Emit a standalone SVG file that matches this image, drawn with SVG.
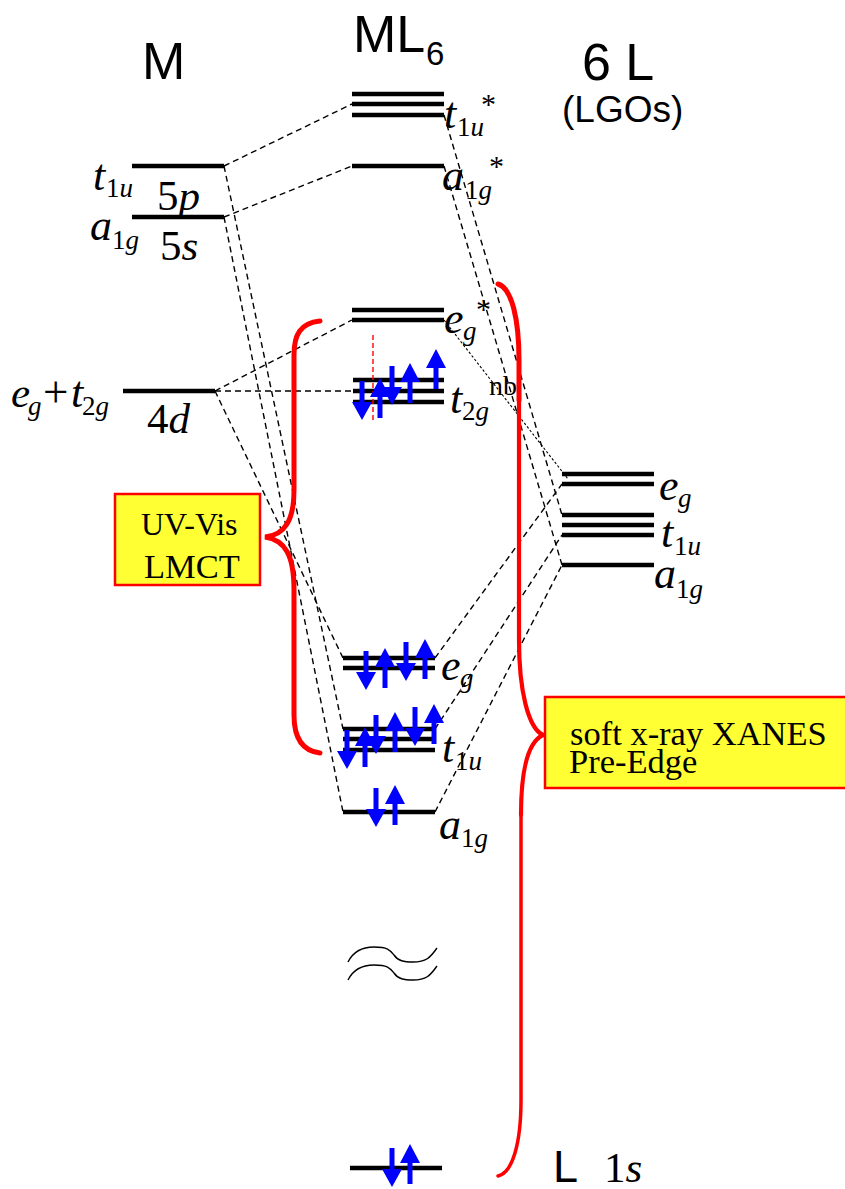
<svg xmlns="http://www.w3.org/2000/svg" width="845" height="1189" viewBox="0 0 845 1189">
<style>
.lv{stroke:#000;stroke-width:4.5;fill:none}
.d{stroke:#000;stroke-width:1.4;stroke-dasharray:6 4;fill:none}
.f{stroke:#000;stroke-width:1.1;stroke-dasharray:2.5 2;fill:none}
.br{stroke:#f00;fill:none;stroke-linecap:round}
.box{fill:#ffff33;stroke:#f00;stroke-width:2.5}
.ss{font-family:"Liberation Sans",Arial,sans-serif;fill:#000}
.t{font-family:"Liberation Serif","Times New Roman",serif;fill:#000}
.i{font-style:italic}
.sq{stroke:#000;stroke-width:1.4;fill:none}
</style>
<defs>
<path id="up" d="M0 0L10 19H2.5V40H-2.5V19H-10Z" fill="#00f"/>
<path id="down" d="M-2.5 0H2.5V21H10L0 39L-10 21H-2.5Z" fill="#00f"/>
</defs>
<g id="connectors">
<path class="d" d="M224 166L352 104"/>
<path class="d" d="M224 217L352 166"/>
<path class="d" d="M215 391L352 320"/>
<path class="d" d="M215 391L352 391"/>
<path class="d" d="M224 166L343 729"/>
<path class="d" d="M224 217L343 812"/>
<path class="d" d="M215 391L343 658"/>
<path class="d" d="M444 115L562 515"/>
<path class="d" d="M444 166L562 565"/>
<path class="f" d="M444 320L568 479"/>
<path class="d" d="M435 658L562 484"/>
<path class="d" d="M435 729L562 535"/>
<path class="d" d="M435 812L562 565"/>
</g>
<g id="titles">
<text class="ss" x="142" y="79" font-size="52">M</text>
<text class="ss" x="353" y="52" font-size="52">ML</text>
<text class="ss" x="426" y="65" font-size="33">6</text>
<text class="ss" x="582" y="80" font-size="52">6 L</text>
<text class="ss" x="562" y="122" font-size="37">(LGOs)</text>
</g>
<g id="metal-t1u"><path class="lv" d="M132 166H224"/>
<text class="t i" x="93" y="190" font-size="44">t</text><text class="t" x="106" y="197" font-size="27">1<tspan class="i">u</tspan></text></g>
<g id="metal-a1g"><path class="lv" d="M132 217H224"/>
<text class="t i" x="90" y="240" font-size="44">a</text><text class="t" x="112" y="249" font-size="27">1<tspan class="i">g</tspan></text></g>
<g id="metal-5p"><text class="t" x="157" y="210" font-size="43">5<tspan class="i">p</tspan></text></g>
<g id="metal-5s"><text class="t" x="160" y="260" font-size="43">5<tspan class="i">s</tspan></text></g>
<g id="metal-4d"><path class="lv" d="M123 391H215"/>
<text class="t" x="147" y="433" font-size="43">4<tspan class="i">d</tspan></text>
<text class="t i" x="11" y="407" font-size="43">e</text><text class="t i" x="28" y="415" font-size="27">g</text><text class="t" x="43" y="407" font-size="45">+</text><text class="t i" x="71" y="407" font-size="44">t</text><text class="t" x="82" y="415" font-size="27">2<tspan class="i">g</tspan></text></g>
<g id="ml6-t1u-star"><path class="lv" d="M352 94H444M352 104H444M352 115H444"/>
<text class="t i" x="444" y="128" font-size="44">t</text><text class="t" x="457" y="136" font-size="27">1<tspan class="i">u</tspan></text><text class="t" x="481" y="114" font-size="30">*</text></g>
<g id="ml6-a1g-star"><path class="lv" d="M352 166H444"/>
<text class="t i" x="442" y="190" font-size="44">a</text><text class="t" x="465" y="199" font-size="27">1<tspan class="i">g</tspan></text><text class="t" x="489" y="176" font-size="30">*</text></g>
<g id="ml6-eg-star"><path class="lv" d="M352 310H444M352 320H444"/>
<text class="t i" x="444" y="333" font-size="44">e</text><text class="t i" x="463" y="340" font-size="27">g</text><text class="t" x="476" y="319" font-size="30">*</text></g>
<g id="ml6-t2g"><path class="lv" d="M353 380H444M353 391H444M353 402H444"/>
<path d="M373 335V420" stroke="#f00" stroke-width="1.4" stroke-dasharray="5 3" fill="none"/>
<text class="t i" x="450" y="413" font-size="44">t</text><text class="t" x="462" y="420" font-size="27">2<tspan class="i">g</tspan></text><text class="t" x="489" y="395" font-size="28">nb</text>
<use href="#down" x="362" y="381"/><use href="#up" x="380" y="378"/><use href="#down" x="392" y="366"/><use href="#up" x="410" y="363"/><use href="#up" x="436" y="349"/></g>
<g id="ml6-eg"><path class="lv" d="M343 658H435M343 668H435"/>
<text class="t i" x="441" y="680" font-size="44">e</text><text class="t i" x="460" y="687" font-size="27">g</text>
<use href="#down" x="366" y="651"/><use href="#up" x="385" y="648"/><use href="#down" x="406" y="642"/><use href="#up" x="425" y="639"/></g>
<g id="ml6-t1u"><path class="lv" d="M343 729H435M343 739H435M343 750H435"/>
<text class="t i" x="442" y="762" font-size="44">t</text><text class="t" x="455" y="770" font-size="27">1<tspan class="i">u</tspan></text>
<use href="#down" x="347" y="730"/><use href="#up" x="365" y="727"/><use href="#down" x="376" y="715"/><use href="#up" x="395" y="712"/><use href="#down" x="415" y="707"/><use href="#up" x="434" y="704"/></g>
<g id="ml6-a1g"><path class="lv" d="M343 812H435"/>
<text class="t i" x="439" y="839" font-size="44">a</text><text class="t" x="461" y="847" font-size="27">1<tspan class="i">g</tspan></text>
<use href="#down" x="376" y="788"/><use href="#up" x="395" y="785"/></g>
<g id="break-mark"><path class="sq" d="M348 962C354 950 364 947 374 947C388 947 390 950 394 955C398 961 404 962 413 962C426 962 430 958 437 948"/>
<path class="sq" d="M348 980C354 968 364 965 374 965C388 965 390 968 394 973C398 979 404 980 413 980C426 980 430 976 437 966"/></g>
<g id="ml6-1s"><path class="lv" d="M350 1168H442"/><use href="#down" x="392" y="1148"/><use href="#up" x="410" y="1144"/>
<text class="ss" x="553" y="1182" font-size="45">L</text><text class="t" x="604" y="1182" font-size="43">1<tspan class="i">s</tspan></text></g>
<g id="lgo-eg"><path class="lv" d="M562 474H654M562 484H654"/>
<text class="t i" x="659" y="500" font-size="44">e</text><text class="t i" x="678" y="507" font-size="27">g</text></g>
<g id="lgo-t1u"><path class="lv" d="M562 515H654M562 525H654M562 535H654"/>
<text class="t i" x="661" y="547" font-size="44">t</text><text class="t" x="674" y="555" font-size="27">1<tspan class="i">u</tspan></text></g>
<g id="lgo-a1g"><path class="lv" d="M562 565H654"/>
<text class="t i" x="654" y="588" font-size="44">a</text><text class="t" x="676" y="598" font-size="27">1<tspan class="i">g</tspan></text></g>
<g id="bracket-uv">
<path class="br" stroke-width="5" d="M320 321C300 323 294 335 294 355V490C294 520 285 535 265 537C285 540 294 555 294 590V715C294 738 302 751 320 753"/>
</g>
<g id="bracket-xanes">
<path class="br" stroke-width="5" d="M498 284C512 288 519 320 519 360V400"/>
<path class="br" stroke-width="4.2" d="M519 400L519 640C519 690 528 728 543 735C528 742 521 770 521 815"/>
<path class="br" stroke-width="3.5" d="M521 815V1100C521 1145 512 1173 498 1176"/>
</g>
<g id="box-uv"><rect class="box" x="115" y="494" width="145" height="91"/>
<text class="t" x="141" y="535" font-size="32">UV-Vis</text><text class="t" x="144" y="578" font-size="34.5">LMCT</text></g>
<g id="box-xanes"><rect class="box" x="545" y="697" width="310" height="91"/>
<text class="t" x="570" y="745" font-size="34.5">soft x-ray XANES</text><text class="t" x="569" y="773" font-size="34.5">Pre-Edge</text></g>
</svg>
